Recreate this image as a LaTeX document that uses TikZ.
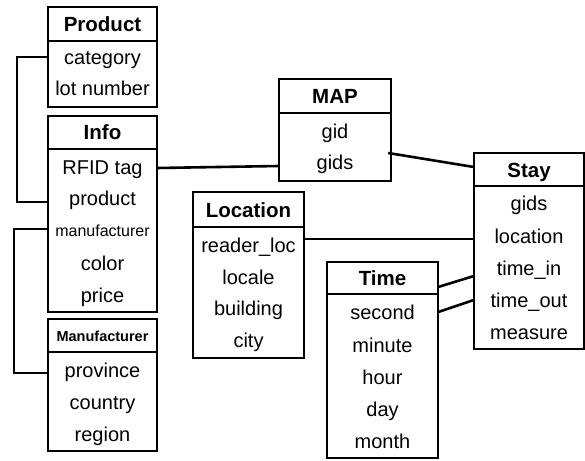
\documentclass[tikz,border=0pt]{standalone}
\usepackage{fontspec}
\setmainfont{Liberation Sans}
\newcommand\fieldfont{\fontsize{20}{22}\selectfont}
\newcommand\smallfieldfont{\fontsize{16}{18}\selectfont}
\newcommand\titlefont{\bfseries\fontsize{20.5}{22}\selectfont}
\newcommand\smalltitlefont{\bfseries\fontsize{14.5}{16}\selectfont}
\tikzset{
  frame/.style={draw, line width=1.2pt, inner sep=0pt},
  thickframe/.style={draw, line width=2.4pt, inner sep=0pt},
  sepline/.style={line width=2.4pt},
  link/.style={line width=2.6pt, line cap=butt},
  field/.style={font=\fieldfont, inner sep=0pt, text height=14pt, text depth=0pt},
  title/.style={font=\titlefont, inner sep=0pt, text height=14.5pt, text depth=0pt},
}
\begin{document}
\begin{tikzpicture}[x=1pt, y=-1pt]
\useasboundingbox (0,0) rectangle (585,460);

% ---- Product ----
\node[frame, minimum width=109pt, minimum height=100pt] (product) at (102.5,57) {};
\draw[sepline] (48,41) -- (157,41);
\node[title, minimum width=109pt] (ptitle) at (102.5,24) {Product};
\node[field, minimum width=109pt] (pcat) at (102.5,57) {category};
\node[field, minimum width=109pt] (plot) at (102.5,88) {lot number};

% ---- Info ----
\node[frame, minimum width=109pt, minimum height=196pt] (info) at (102.5,214) {};
\draw[sepline] (48,149) -- (157,149);
\node[title, minimum width=109pt] (ititle) at (102.5,132) {Info};
\node[field, minimum width=109pt] (irfid) at (102.5,167) {RFID tag};
\node[field, minimum width=109pt] (iprod) at (102.5,198) {product};
\node[field, minimum width=109pt, font=\smallfieldfont, text height=11.5pt] (imanu) at (102.5,231) {manufacturer};
\node[field, minimum width=109pt] (icolor) at (102.5,263) {color};
\node[field, minimum width=109pt] (iprice) at (102.5,295) {price};

% ---- Manufacturer ----
\node[frame, minimum width=109pt, minimum height=132pt] (manu) at (102.5,385) {};
\draw[sepline] (48,352) -- (157,352);
\node[title, minimum width=109pt, font=\smalltitlefont, text height=10.5pt] (mtitle) at (102.5,336) {Manufacturer};
\node[field, minimum width=109pt] (mprov) at (102.5,370) {province};
\node[field, minimum width=109pt] (mcountry) at (102.5,402) {country};
\node[field, minimum width=109pt] (mregion) at (102.5,434) {region};

% ---- MAP ----
\node[thickframe, minimum width=112pt, minimum height=102pt] (map) at (335,130) {};
\draw[sepline] (279,113) -- (391,113);
\node[title, minimum width=112pt] (maptitle) at (335,96) {MAP};
\node[field, minimum width=112pt] (mapgid) at (335,131) {gid};
\node[field, minimum width=112pt] (mapgids) at (335,162) {gids};

% ---- Location ----
\node[frame, minimum width=111pt, minimum height=166pt] (loc) at (248.5,275) {};
\draw[sepline] (193,227) -- (304,227);
\node[title, minimum width=111pt] (loctitle) at (248.5,210) {Location};
\node[field, minimum width=111pt] (locreader) at (248.5,245) {reader\_loc};
\node[field, minimum width=111pt] (loclocale) at (248.5,277) {locale};
\node[field, minimum width=111pt] (locbuild) at (248.5,308) {building};
\node[field, minimum width=111pt] (loccity) at (248.5,340) {city};

% ---- Stay ----
\node[frame, minimum width=110pt, minimum height=196pt] (stay) at (529,251) {};
\draw[sepline] (474,186) -- (584,186);
\node[title, minimum width=110pt] (staytitle) at (529,170) {Stay};
\node[field, minimum width=110pt] (staygids) at (529,203) {gids};
\node[field, minimum width=110pt] (stayloc) at (529,236) {location};
\node[field, minimum width=110pt] (staytin) at (529,268) {time\_in};
\node[field, minimum width=110pt] (staytout) at (529,300) {time\_out};
\node[field, minimum width=110pt] (staymeas) at (529,332) {measure};

% ---- Time ----
\node[frame, minimum width=111pt, minimum height=196pt] (time) at (382.5,360) {};
\draw[sepline] (327,294) -- (438,294);
\node[title, minimum width=111pt] (timetitle) at (382.5,278) {Time};
\node[field, minimum width=111pt] (tsec) at (382.5,312) {second};
\node[field, minimum width=111pt] (tmin) at (382.5,345) {minute};
\node[field, minimum width=111pt] (thour) at (382.5,377) {hour};
\node[field, minimum width=111pt] (tday) at (382.5,409) {day};
\node[field, minimum width=111pt] (tmonth) at (382.5,441) {month};

% ---- connectors ----
\coordinate (pbend) at (17,0);
\coordinate (mbend) at (14,0);
\draw[link] (pcat.west) -- (pcat.west -| pbend)
  -- ([yshift=-4pt]iprod.west -| pbend) -- ([yshift=-4pt]iprod.west);
\draw[link] ([yshift=2pt]imanu.west) -- ([yshift=2pt]imanu.west -| mbend)
  -- ([yshift=-3pt]mprov.west -| mbend) -- ([yshift=-3pt]mprov.west);
\draw[link] ([yshift=-1pt]irfid.east) -- ([yshift=-4pt]mapgids.west);
\draw[link] ([xshift=-3pt,yshift=9pt]mapgids.east) -- ([yshift=3pt]staytitle.west);
\draw[link] ([yshift=-3pt]locreader.east |- stayloc.west) -- ([yshift=-3pt]stayloc.west);
\draw[link] ([yshift=-9pt]timetitle.east) -- ([yshift=-8pt]staytin.west);
\draw[link] (tsec.east) -- (staytout.west);
\end{tikzpicture}
\end{document}
